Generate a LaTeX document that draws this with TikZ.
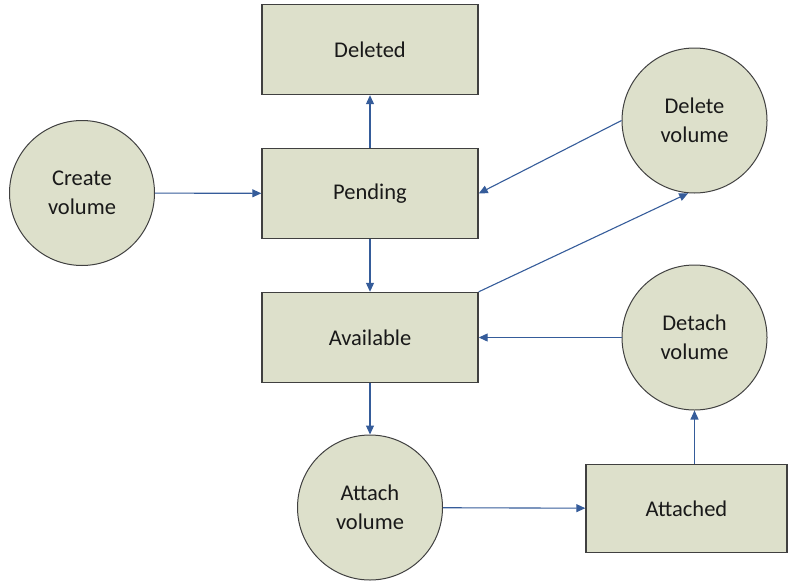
\documentclass[tikz,border=0pt]{standalone}
\usepackage{fontspec}
\setmainfont{Carlito}
\usetikzlibrary{arrows.meta}
\definecolor{boxfill}{HTML}{DDE0CB}
\definecolor{boxline}{HTML}{404040}
\definecolor{arrowc}{HTML}{355C9A}
\begin{document}
\begin{tikzpicture}[x=1pt,y=-1pt,
  every node/.style={font=\fontsize{22.5}{29}\selectfont, text=black!90, align=center, inner sep=0pt},
  state/.style={draw=boxline, line width=1.4pt, fill=boxfill, rectangle, minimum width=216pt, minimum height=90pt},
  action/.style={draw=boxline, line width=1pt, fill=boxfill, circle, minimum size=145pt},
  conn/.style={draw=arrowc, line width=1.1pt, -{Triangle[length=9pt,width=8pt]}}]
\useasboundingbox (0,0) rectangle (791,581);
\node[state] (deleted) at (370,49.5) {Deleted};
\node[state] (pending) at (370,193.5) {Pending};
\node[state] (avail) at (370,337.5) {Available};
\node[state, minimum width=201pt, minimum height=88pt] (attached) at (686.5,508.5) {Attached};
\node[action] (create) at (82,193) {Create\\volume};
\node[action] (delv) at (694.5,120.5) {Delete\\volume};
\node[action] (detach) at (694.5,337.5) {Detach\\volume};
\node[action] (attach) at (370,507.5) {Attach\\volume};
\draw[conn] (create) -- (pending);
\draw[conn] (pending) -- (deleted);
\draw[conn] (delv.west) -- (pending.east);
\draw[conn] (avail.north east) -- (delv.265);
\draw[conn] (pending) -- (avail);
\draw[conn] (detach) -- (avail);
\draw[conn] (avail) -- (attach);
\draw[conn] (attach) -- (attached);
\draw[conn] (attached.north -| detach) -- (detach);
\end{tikzpicture}
\end{document}
